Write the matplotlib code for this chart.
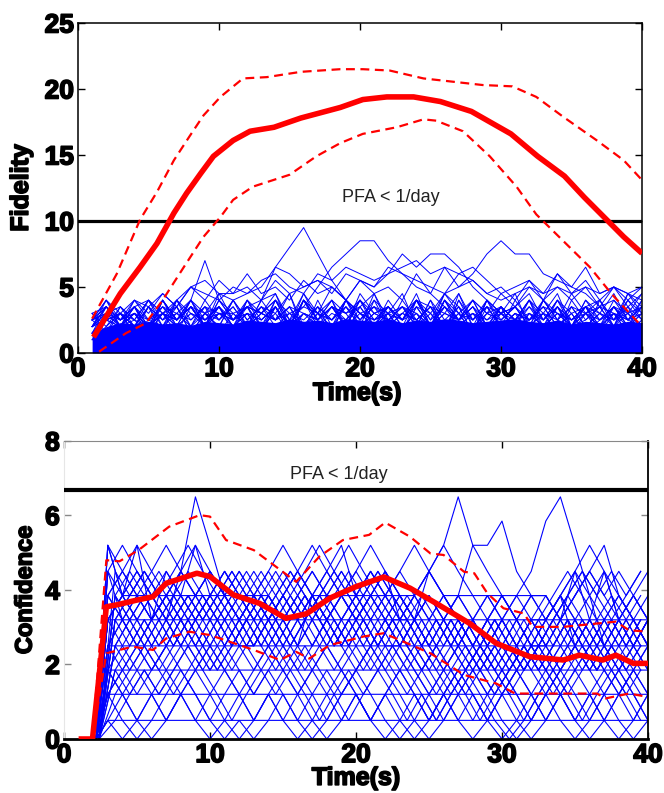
import numpy as np
import matplotlib
matplotlib.use("Agg")
import matplotlib.pyplot as plt
import matplotlib.patheffects as pe

# ---- Fidelity panel ----
fid_mean_t = [1.1, 3.0, 4.4, 5.6, 6.8, 7.7, 8.7, 9.6, 11.0, 12.2, 13.9, 15.8, 18.6, 20.2, 21.9,
              23.8, 25.7, 27.9, 30.7, 32.6, 34.5, 35.9, 37.3, 38.7, 40.0]
fid_mean = [1.2, 4.5, 6.5, 8.3, 10.6, 12.1, 13.6, 14.9, 16.1, 16.8, 17.1, 17.8, 18.6, 19.2, 19.4,
            19.4, 19.05, 18.3, 16.6, 14.9, 13.4, 11.8, 10.3, 8.8, 7.55]
fid_hi_t = [1.0, 2.75, 4.4, 5.6, 6.8, 7.9, 8.9, 10.1, 11.7, 13.4, 15.8, 18.6, 20.2, 22.1, 24.5,
            28.7, 30.8, 32.5, 34.4, 36.8, 38.7, 40.0]
fid_hi = [2.6, 6.0, 10.1, 12.2, 14.6, 16.4, 18.0, 19.4, 20.8, 20.9, 21.3, 21.5, 21.5, 21.4, 20.8,
          20.3, 20.2, 19.4, 17.9, 16.1, 14.6, 13.1]
fid_lo_t = [1.5, 3.4, 4.8, 6.0, 7.5, 8.9, 10.1, 11.0, 12.4, 15.0, 16.9, 18.6, 20.2, 22.6, 24.5,
            25.4, 27.3, 29.2, 31.1, 32.5, 34.4, 36.3, 37.9, 40.0]
fid_lo = [0.1, 1.5, 2.25, 4.0, 6.5, 8.8, 10.3, 11.6, 12.6, 13.5, 14.9, 15.9, 16.6, 17.1, 17.7,
          17.6, 16.8, 14.9, 12.6, 10.5, 8.5, 6.5, 4.4, 2.0]
fid_threshold = 10

# dense part of the noise traces, t = 1..40
fid_band = [1.5, 2.0, 2.3, 2.2, 2.4, 2.2, 2.3, 2.1, 2.4, 2.3, 2.2, 2.5, 2.4, 2.3, 2.6, 2.4, 2.5,
            2.3, 2.6, 2.5, 2.4, 2.6, 2.3, 2.5, 2.4, 2.6, 2.5, 2.3, 2.4, 2.5, 2.6, 2.4, 2.3, 2.5,
            2.2, 2.4, 2.3, 2.2, 2.4, 2.3]

# noise traces, t = 1..40, one char per second, value = base36 digit * 0.5
fid_traces = [
    "3564756475" "8465736485" "7638574637" "5846574635",
    "5746385746" "5746385746" "5746384657" "3648574635",
    "2463547364" "8574657384" "6574638574" "6574638564",
    "4675846573" "6485764758" "4637465847" "3657486573",
    "6475364857" "4637485763" "8465746385" "7463746586",
    "3546475867" "4657384657" "4857647384" "6574635746",
    "5364758647" "3857465837" "4658746374" "8576473658",
    "4756384657" "4865746385" "7465738465" "7463857463",
    "3657485746" "5847365748" "5637485746" "5837465746",
    "4563748576" "4738465748" "6574839576" "4758463748",
    "5847365847" "5637486574" "9576485736" "4857364857",
    "3745867485" "7465947586" "4759486574" "6385746957",
    "6374857364" "8576938475" "8694857365" "7485967485",
    "4857463748" "5769485768" "5748596847" "5869485769",
    "2564738465" "7489576849" "6758497586" "9485768497",
    "5748576849" "5768495867" "9485769486" "7958678596",
    "4565465756" "678dgjfb86" "5675465756" "4565457654",
    "56475648e8" "6475647586" "4756475647" "5647564756",
    "4657465748" "576867adfh" "heca975867" "5746576475",
    "3546574657" "4657486574" "675869acfh" "ffcba97867",
    "5647385746" "5748596a8b" "acfdffda86" "7586475647",
    "4756485769" "89adcaba86" "7568475869" "7a8a9a9a8a",
    "6758697ab9" "9c9a8b9a8b" "9a8c9dab98" "9a9cad9a9a",
    "4757868a98" "a9bca9cbdc" "bcdecdcb9a" "8b9a8a7a98",
    "5868797a8b" "9a8b9ab9cb" "adcba9cdb9" "ab8c9b8a79",
]

# ---- Confidence panel ----
conf_mean_t = [1.0, 1.95, 2.9, 3.6, 5.0, 6.1, 7.0, 9.1, 10.0, 11.6, 13.4, 15.2, 16.6, 18.2, 20.0,
               21.9, 23.7, 25.5, 27.8, 29.6, 31.9, 34.2, 35.3, 36.9, 37.8, 39.0, 40.0]
conf_mean = [0, 0, 3.55, 3.6, 3.73, 3.82, 4.18, 4.45, 4.36, 3.87, 3.64, 3.24, 3.36, 3.78, 4.09,
             4.35, 4.05, 3.64, 3.1, 2.57, 2.21, 2.12, 2.25, 2.12, 2.25, 2.03, 2.03]
conf_hi_t = [1.95, 2.9, 3.8, 5.1, 7.2, 9.3, 10.0, 11.1, 13.0, 15.9, 17.5, 19.1, 20.9, 22.0, 23.7,
             25.1, 26.0, 27.4, 28.1, 29.0, 30.1, 31.5, 32.1, 34.2, 36.5, 37.8, 38.7, 40.0]
conf_hi = [0, 4.8, 4.77, 5.07, 5.7, 6.01, 5.97, 5.34, 5.07, 4.22, 4.9, 5.34, 5.48, 5.81, 5.43,
           4.98, 4.94, 4.49, 4.45, 3.91, 3.51, 3.37, 3.01, 3.01, 3.1, 3.15, 2.92, 2.88]
conf_lo_t = [1.95, 2.9, 4.7, 6.1, 7.0, 8.6, 10.0, 13.0, 14.8, 15.9, 16.8, 18.2, 20.5, 21.9, 25.1,
             27.4, 29.6, 30.9, 34.2, 36.5, 37.1, 38.7, 40.0]
conf_lo = [0, 2.3, 2.48, 2.39, 2.7, 2.88, 2.79, 2.39, 2.12, 2.34, 2.16, 2.52, 2.75, 2.84, 2.3,
           1.72, 1.49, 1.22, 1.22, 1.22, 1.09, 1.22, 1.13]
conf_threshold = 6.68

# confidence takes only a few discrete values
conf_levels = [0.0, 0.5, 1.2, 1.85, 2.5, 3.2, 3.85, 4.5, 5.2, 5.85, 6.5]
conf_t = [2.2] + list(range(3, 41))
# noise traces, t = 3..40, one char per second, char = index into conf_levels
conf_traces = [
    "867657a865" "6545654565" "4543454345" "43434343",
    "6787656765" "6567656787" "6578a87656" "65757565",
    "5654565456" "5456545654" "4565688976" "56454545",
    "7656545654" "4565456545" "6545654567" "9a864545",
    "6545676545" "6567876545" "4565456545" "65678654",
    "7545654565" "4565678676" "5456545654" "56545654",
    "8765676765" "6765676567" "6545654565" "45454545",
    "3454345434" "5434543454" "3432343234" "32343234",
    "4343454345" "4543454345" "4323432343" "23432343",
    "2323432123" "2321232343" "2123212321" "23212321",
    "5434543454" "3454345434" "5434543454" "34543454",
    "6565656767" "6567656565" "6565454545" "56767565",
    "1212321232" "1232123212" "3212321232" "12321232",
    "4545676545" "4565454565" "4543434543" "43454345",
    "3232123432" "3432343212" "1212321212" "32121232",
    "6767878676" "5656567676" "7676545454" "34345454",
    "5656565656" "5656765676" "5654545434" "45676767",
    "2343454343" "2343212343" "4321234321" "23434321",
    "7876765676" "5676767656" "5676545654" "56565654",
    "4565454565" "6545654567" "6545456545" "45676565",
    "3212123212" "1212321212" "3212121232" "12123212",
    "5676545676" "7654565656" "7876543434" "54545434",
    "1010121010" "1210101210" "1012101010" "12101012",
    "2101232101" "0121012321" "0101232101" "21012101",
    "8685768767" "6787656767" "5678765656" "56787656",
    "5666666666" "6654666666" "6656666666" "65454545",
    "1111111111" "1111111111" "1111111111" "11111111",
    "2222222222" "2222222222" "2222222222" "22222222",
    "3333333333" "3333333333" "3333333333" "33333333",
    "4444444444" "4444444444" "4444444444" "44444444",
    "5555555555" "5555555555" "5555555555" "55555555",
]
# more traces sampled half a second later, t = 3.5..39.5
conf_t_half = [2.4] + [3.5 + k for k in range(37)]
conf_traces_half = [
    "5676545676" "5456545676" "5454345434" "5434543",
    "4565676545" "6545654565" "4543434543" "4543454",
    "6545654567" "6765676545" "6545432343" "4543434",
    "3454565434" "5456545434" "3432343234" "3454345",
    "5676787656" "5676545654" "5434543454" "5654567",
    "2343454345" "4343454345" "4323212343" "2343432",
    "7676565676" "7656567676" "5454345434" "5676545",
    "4343234345" "4565434543" "2343234343" "4545434",
    "6565456545" "6545676545" "4345434345" "6765656",
    "3232343454" "3432123234" "3212343212" "3234323",
    "5454565654" "5676545456" "5454545434" "3454545",
    "6767656545" "6567878765" "5654543434" "5676767",
    "1232343212" "3234321232" "1212321012" "3212321",
    "4545454565" "4545654545" "4345432345" "4543454",
]

blue = "#0000ff"
red = "#ff0000"
tick_font = {"family": "Liberation Sans", "weight": "bold", "size": 19}
label_font = {"family": "Liberation Sans", "weight": "bold", "size": 18}
heavy = [pe.withStroke(linewidth=1.2, foreground="black")]

fig = plt.figure(figsize=(6.64, 7.93), dpi=100)

# ------------------------- top: Fidelity -------------------------
ax1 = fig.add_axes([0.1175, 0.5549, 0.8494, 0.4161])
fid_x = np.arange(1, 41)
ax1.fill_between(fid_x, 0, fid_band, color=blue, lw=0, zorder=1)
for s in fid_traces:
    vals = [int(c, 36) * 0.5 for c in s]
    ax1.plot(fid_x[:len(vals)], vals, color=blue, lw=0.7, zorder=2)
ax1.axhline(fid_threshold, color="black", lw=2.3, zorder=3)
ax1.plot(fid_hi_t, fid_hi, color=red, lw=1.6, dashes=(4, 2.5), zorder=4)
ax1.plot(fid_lo_t, fid_lo, color=red, lw=1.6, dashes=(4, 2.5), zorder=4)
ax1.plot(fid_mean_t, fid_mean, color=red, lw=4, solid_capstyle="butt", zorder=5)
ax1.text(18.7, 11.8, "PFA < 1/day", family="Liberation Sans", size=13, color="#222222",
         va="center", ha="left")
ax1.set_xlim(0, 40)
ax1.set_ylim(0, 25)
ax1.set_xticks([0, 10, 20, 30, 40])
ax1.set_yticks([0, 5, 10, 15, 20, 25])
ax1.tick_params(direction="in", top=True, right=True, length=5, width=1, pad=3)
for sp in ax1.spines.values():
    sp.set_linewidth(1.1)
ax1.set_xlabel("Time(s)", fontdict=label_font)
ax1.set_ylabel("Fidelity", fontdict=label_font)
ax1.xaxis.set_label_coords(0.495, -0.085)
ax1.yaxis.set_label_coords(-0.08, 0.5)

# ------------------------- bottom: Confidence -------------------------
ax2 = fig.add_axes([0.0964, 0.0681, 0.8795, 0.3758])
for s in conf_traces:
    vals = [0.0] + [conf_levels[int(c, 36)] for c in s]
    ax2.plot(conf_t[:len(vals)], vals, color=blue, lw=0.8, zorder=2)
for s in conf_traces_half:
    vals = [0.0] + [conf_levels[int(c, 36)] for c in s]
    ax2.plot(conf_t_half[:len(vals)], vals, color=blue, lw=0.8, zorder=2)
ax2.axhline(conf_threshold, color="black", lw=3, zorder=3)
ax2.plot(conf_hi_t, conf_hi, color=red, lw=1.6, dashes=(4, 2.5), zorder=4)
ax2.plot(conf_lo_t, conf_lo, color=red, lw=1.6, dashes=(4, 2.5), zorder=4)
ax2.plot(conf_mean_t, conf_mean, color=red, lw=4, solid_capstyle="butt", zorder=5)
ax2.text(15.5, 7.11, "PFA < 1/day", family="Liberation Sans", size=13, color="#222222",
         va="center", ha="left")
ax2.set_xlim(0, 40)
ax2.set_ylim(0, 8)
ax2.set_xticks([0, 10, 20, 30, 40])
ax2.set_yticks([0, 2, 4, 6, 8])
ax2.tick_params(direction="in", top=True, right=True, length=5, width=1, pad=3)
ax2.tick_params(axis="y", colors="#888888", labelcolor="black")
ax2.spines["top"].set_color("#888888")
ax2.spines["left"].set_color("#e6e6e6")
ax2.spines["right"].set_linewidth(1.3)
ax2.spines["bottom"].set_linewidth(2)
ax2.set_xlabel("Time(s)", fontdict=label_font)
ax2.set_ylabel("Confidence", fontdict={**label_font, "size": 17})
ax2.xaxis.set_label_coords(0.5, -0.09)
ax2.yaxis.set_label_coords(-0.047, 0.5)

for ax in (ax1, ax2):
    for lbl in ax.get_xticklabels() + ax.get_yticklabels():
        lbl.set_fontproperties(tick_font)
        lbl.set_path_effects(heavy)
    ax.xaxis.label.set_path_effects(heavy)
    ax.yaxis.label.set_path_effects(heavy)

fig.savefig("out.png", dpi=100)
